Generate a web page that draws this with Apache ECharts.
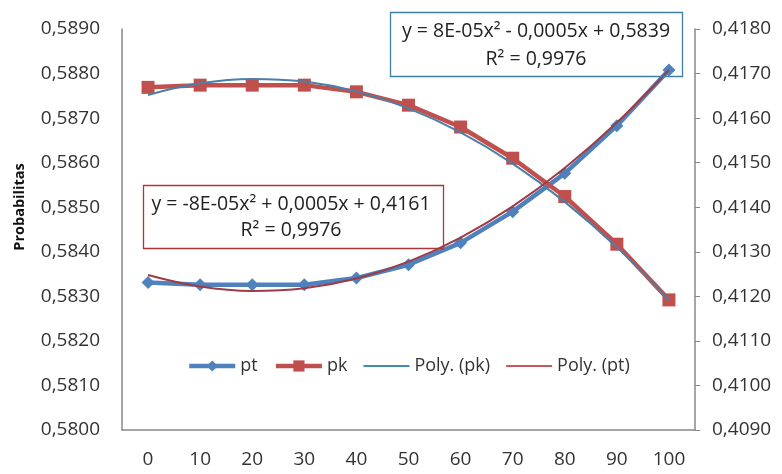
<!DOCTYPE html>
<html>
<head>
<meta charset="utf-8">
<script src="https://cdn.jsdelivr.net/npm/echarts@6/dist/echarts.min.js"></script>
<style>html,body{margin:0;padding:0;background:#fff}#c{width:782px;height:474px}</style>
</head>
<body>
<div id="c"></div>
<script>
const categories = ['0','10','20','30','40','50','60','70','80','90','100'];
const ptValues = [0.58331, 0.58326, 0.58326, 0.58326, 0.58341, 0.58371, 0.58420, 0.58490, 0.58576, 0.58683, 0.58808];
const pkValues = [0.41669, 0.41674, 0.41674, 0.41674, 0.41659, 0.41629, 0.41580, 0.41510, 0.41424, 0.41317, 0.41192];
const polyPkValues = [0.41652, 0.41678, 0.41688, 0.41682, 0.41660, 0.41622, 0.41568, 0.41498, 0.41412, 0.41310, 0.41192];
const polyPtValues = [0.58348, 0.58322, 0.58312, 0.58318, 0.58340, 0.58378, 0.58432, 0.58502, 0.58588, 0.58690, 0.58808];
const leftTicks = {min: 0.580, max: 0.589, interval: 0.001};
const rightTicks = {min: 0.409, max: 0.418, interval: 0.001};
const yTitle = 'Probabilitas';
const eqPk = ['y = 8E-05x² - 0,0005x + 0,5839', 'R² = 0,9976'];
const eqPt = ['y = -8E-05x² + 0,0005x + 0,4161', 'R² = 0,9976'];

const FONT = '"Open Sans", sans-serif';
const fmt = v => v.toFixed(4).replace('.', ',');
const thinIcon = 'path://M0 0H46V2H0Z';
const chart = echarts.init(document.getElementById('c'), null, {renderer: 'canvas'});
chart.setOption({
  animation: false,
  backgroundColor: '#fff',
  grid: {left: 122, right: 87, top: 29, bottom: 44},
  legend: {
    left: 182, top: 352,
    itemWidth: 46, itemHeight: 14, itemGap: 16,
    textStyle: {fontFamily: FONT, fontSize: 18, color: '#333'},
    data: [
      {name: 'pt', lineStyle: {width: 4.5}},
      {name: 'pk', lineStyle: {width: 4.5}},
      {name: 'Poly. (pk)', icon: thinIcon, itemStyle: {color: '#3F8DB0'}},
      {name: 'Poly. (pt)', icon: thinIcon, itemStyle: {color: '#C4585A'}}
    ]
  },
  xAxis: {
    type: 'category', data: categories, boundaryGap: true,
    axisLine: {lineStyle: {color: '#888', width: 1.5}},
    axisTick: {show: false},
    axisLabel: {fontFamily: FONT, fontSize: 19, color: '#333', margin: 20}
  },
  yAxis: [{
    type: 'value', min: leftTicks.min, max: leftTicks.max, interval: leftTicks.interval,
    axisLine: {show: true, lineStyle: {color: '#888', width: 1.5}},
    axisTick: {show: false},
    splitLine: {show: false},
    axisLabel: {fontFamily: FONT, fontSize: 19, color: '#333', margin: 22, formatter: fmt}
  }, {
    type: 'value', position: 'right', min: rightTicks.min, max: rightTicks.max, interval: rightTicks.interval,
    axisLine: {show: true, lineStyle: {color: '#888', width: 1.5}},
    axisTick: {show: true, length: 5, lineStyle: {color: '#888'}},
    splitLine: {show: false},
    axisLabel: {fontFamily: FONT, fontSize: 19, color: '#333', margin: 17, formatter: fmt}
  }],
  series: [{
    name: 'pt', type: 'line', yAxisIndex: 0, data: ptValues,
    symbol: 'diamond', symbolSize: 13,
    lineStyle: {color: '#4F81BD', width: 4.5},
    itemStyle: {color: '#4F81BD'}, z: 2
  }, {
    name: 'pk', type: 'line', yAxisIndex: 1, data: pkValues,
    symbol: 'rect', symbolSize: 13,
    lineStyle: {color: '#C0504D', width: 4.5},
    itemStyle: {color: '#C0504D'}, z: 2
  }, {
    name: 'Poly. (pk)', type: 'line', yAxisIndex: 1, data: polyPkValues,
    symbol: 'none', smooth: 0.4,
    lineStyle: {color: '#4A7FA8', width: 2},
    itemStyle: {color: '#3F8DB0'}, z: 3
  }, {
    name: 'Poly. (pt)', type: 'line', yAxisIndex: 0, data: polyPtValues,
    symbol: 'none', smooth: 0.4,
    lineStyle: {color: '#9E3B45', width: 2},
    itemStyle: {color: '#C4585A'}, z: 3
  }],
  graphic: [{
    type: 'text', x: 20, y: 207, rotation: Math.PI / 2,
    style: {text: yTitle, font: 'bold 14.5px "Open Sans", sans-serif', fill: '#111', textAlign: 'center', textVerticalAlign: 'middle'}
  }, {
    type: 'rect', shape: {x: 390.5, y: 12.5, width: 292, height: 64},
    style: {fill: 'rgba(255,255,255,0)', stroke: '#3F7FA6', lineWidth: 1.3}, z: 10
  }, {
    type: 'text', x: 536, y: 31,
    style: {text: eqPk[0], font: '19.5px ' + FONT, fill: '#222', textAlign: 'center', textVerticalAlign: 'middle'}, z: 10
  }, {
    type: 'text', x: 536, y: 59,
    style: {text: eqPk[1], font: '19.5px ' + FONT, fill: '#222', textAlign: 'center', textVerticalAlign: 'middle'}, z: 10
  }, {
    type: 'rect', shape: {x: 143.5, y: 185.5, width: 300, height: 63},
    style: {fill: 'rgba(255,255,255,0)', stroke: '#B0353A', lineWidth: 1.3}, z: 10
  }, {
    type: 'text', x: 291, y: 204,
    style: {text: eqPt[0], font: '19.5px ' + FONT, fill: '#222', textAlign: 'center', textVerticalAlign: 'middle'}, z: 10
  }, {
    type: 'text', x: 291, y: 230,
    style: {text: eqPt[1], font: '19.5px ' + FONT, fill: '#222', textAlign: 'center', textVerticalAlign: 'middle'}, z: 10
  }]
});
</script>
</body>
</html>
